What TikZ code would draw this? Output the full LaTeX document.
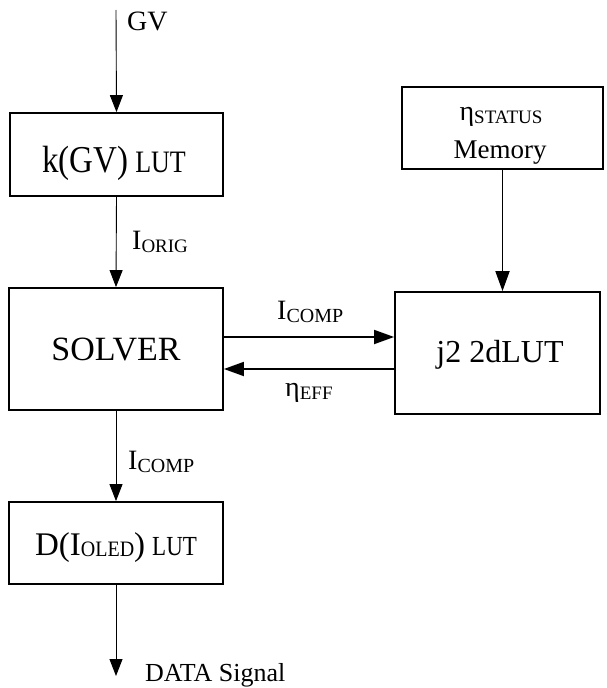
\documentclass[tikz,border=0pt]{standalone}
\usepackage{fontspec}
\setmainfont{Liberation Serif}
\usetikzlibrary{arrows.meta}

% lowered small-size subscript used in the signal names
\newcommand{\lowsub}[2][20]{\raisebox{-3.5pt}{\fontsize{#1}{#1}\selectfont #2}}
% text of a given size, stretched vertically
\newcommand{\tallfont}[3]{\scalebox{1}[#2]{\fontsize{#1}{#1}\selectfont #3}}

\begin{document}
\begin{tikzpicture}[x=1pt,y=-1pt,
  block/.style={draw, line width=1.8pt, rectangle, inner sep=0pt},
  intext/.style={anchor=base, inner sep=0pt},
  sig/.style={line width=0.9pt, -{Triangle[length=17pt,width=13pt]}},
  bus/.style={line width=1.8pt, -{Triangle[length=20pt,width=14pt]}},
  lbl/.style={font=\fontsize{28}{30}\selectfont, inner sep=0pt, anchor=base west}]

\useasboundingbox (0,0) rectangle (606,688);

% blocks
\node[block, minimum width=213pt, minimum height=83pt] (kgv) at (116.5,154.5) {};
\node[block, minimum width=214pt, minimum height=122pt] (solver) at (116,349) {};
\node[block, minimum width=214pt, minimum height=82pt] (dled) at (116,543) {};
\node[block, minimum width=205pt, minimum height=122pt] (j2) at (497.5,353) {};
\node[block, minimum width=201pt, minimum height=82pt] (mem) at (502.5,128) {};

% block texts
\node[intext] (kgvt) at (114,172)
  {\tallfont{33}{1.15}{k(GV)}\hspace{7pt}\tallfont{26}{1.2}{LUT}};
\node[intext, font=\fontsize{34}{36}\selectfont] (solvert) at (116,360) {SOLVER};
\node[intext] (dledt) at (116,555)
  {\fontsize{33}{33}\selectfont D(I\raisebox{-1pt}{\tallfont{20}{1.1}{OLED}})\hspace{7pt}\tallfont{23}{1.2}{LUT}};
\node[intext, font=\fontsize{32}{34}\selectfont] (j2t) at (500,362) {j2 2dLUT};
\node[intext, font=\fontsize{28}{30}\selectfont] (memeta) at (501,120) {η\lowsub[19]{STATUS}};
\node[intext, font=\fontsize{27}{30}\selectfont] (memt) at (500,158) {Memory};

% free ends
\coordinate (gvin) at (116,10);
\coordinate (dataout) at (116,676);

% connectors
\draw[sig] (gvin) -- (kgv.north);
\draw[sig] (kgv.south) -- (solver.north);
\draw[sig] (solver.south) -- (dled.north);
\draw[sig] (dled.south) -- (dataout);
\draw[bus] (mem.south) -- (mem.south |- j2.north);
\draw[bus] (solver.east |- 0,337) -- (j2.west |- 0,337);
\draw[bus] (j2.west |- 0,369) -- (solver.east |- 0,369);

% labels
\node[lbl] (lgv) at (127,30) {GV};
\node[lbl] (lorig) at (132,249) {I\lowsub[19]{ORIG}};
\node[lbl] (lcomp1) at (277,319) {I\lowsub{COMP}};
\node[lbl] (leff) at (285,396) {η\lowsub[19]{EFF}};
\node[lbl] (lcomp2) at (128,469) {I\lowsub{COMP}};
\node[lbl, font=\fontsize{26}{28}\selectfont] (ldata) at (145,681) {DATA Signal};

\end{tikzpicture}
\end{document}
